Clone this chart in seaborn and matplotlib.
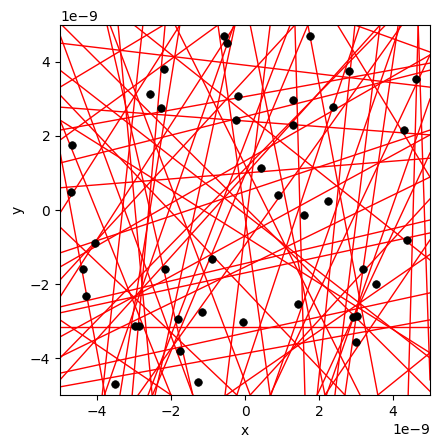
import numpy as np
import pandas as pd
import matplotlib
matplotlib.use("Agg")
import matplotlib.pyplot as plt
import seaborn as sns

SCALE = 1e-9

# black points (units of 1e-9)
point_x = [1.77, 2.82, 4.63, 1.31, 2.39, 1.31, 4.31, 0.43, 0.90, 2.25,
           -0.57, -0.48, -2.18, -2.57, -2.26, -0.18, -0.23, -4.67, -4.70,
           -4.05, -4.37, -4.29, -2.15, -0.88, -1.15, -1.80, -0.05, -2.97,
           -2.86, -1.75, -3.51, -1.26,
           1.60, 4.39, 3.20, 3.53, 1.44, 2.92, 3.03, 3.01]
point_y = [4.70, 3.76, 3.53, 2.97, 2.78, 2.29, 2.16, 1.14, 0.41, 0.24,
           4.70, 4.50, 3.80, 3.14, 2.75, 3.07, 2.43, 1.75, 0.49,
           -0.90, -1.60, -2.32, -1.60, -1.33, -2.77, -2.95, -3.04, -3.14,
           -3.14, -3.82, -4.71, -4.65,
           -0.14, -0.82, -1.60, -2.01, -2.55, -2.89, -2.86, -3.57]

# red lines, two end points each (units of 1e-9)
line_x0 = [-5, -5, -5, -5, -5, -5, -5, -5, -5, -5, -5, -5, -5, -5, -5, -5, -5,
           -3.73, -3.65, -3.43, -2.76, -2.16, -1.76, -0.73, -0.27, 0.14, 0.68,
           1.22, 1.35, 1.70, 2.97, 3.11, 3.65, 4.14, 4.24, 4.68, -1.89,
           -5, -5, -5, -5, -5, -5, -5, -5, 2.97, -4.95,
           5, 5, 5, 5, 5, 5,
           -5, -5, -3.0, -0.5, 0.14,
           -3.8, -2.5, 0.7, 2.2, -5, 3.8]
line_y0 = [-3.17, 2.16, 1.27, -2.78, -1.89, -2.35, -3.43, -3.97, -4.41, -4.59,
           2.78, -1.16, -1.54, -2.62, -2.97, -4.78, 4.51,
           5, 5, 5, 5, 5, 5, 5, 5, 5, 5, 5, 5, 5, 5, 5, 5, 5, 5, 5, 5,
           4.73, 3.78, 3.32, 2.43, 1.89, 1.57, -0.08, -0.46, 5, 5,
           4.19, 1.54, 0.89, -0.81, -3.86, -4.59,
           3.11, 2.43, 5, -5, -5,
           -5, -5, -5, -5, 0.6, 5]
line_x1 = [5, 5, 5, 5, 1.35, -0.27, 5, 5, 5, 3.65, 5, 5, 5, 5, -2.0, 5, 5,
           -1.41, 0.14, -2.51, -3.86, -3.05, -3.38, 0.68, -2.43, 2.16, -0.54,
           -2.62, 1.62, 3.59, 1.95, -0.22, 2.43, 2.70, -2.89, 4.41, 3.11,
           -1.41, 5, -2.2, -2.0, -0.73, -3.78, -1.76, -0.22, 5, 5,
           0.68, 1.95, 2.5, 2.16, 3.59, 4.68,
           2.7, 5, 5, 5, 5,
           -0.3, 1.7, 4.2, 5, 5, -5]
line_y1 = [-3.17, 3.97, 3.78, -0.62, 5, 5, 2.03, 0.89, -2.24, 5,
           2.03, 2.16, 4.19, -0.27, -5, -2.97, 3.32,
           -5, -5, -5, -5, -5, -5, -5, -5, -5, -5, -5, -5, -5, -5, -5, -5, -5,
           -5, -5, -5,
           -5, -4.0, 5, -5, 5, -5, 5, -5, 4.27, -4.9,
           -5, -5, 5, -5, -5, 5,
           -5, -3.86, -1.35, -1.2, 0.3,
           5, 5, 5, 3.0, 1.4, -4.0]

rows = []
for i, (a, b, c, d) in enumerate(zip(line_x0, line_y0, line_x1, line_y1)):
    rows.append({"line": i, "x": a * SCALE, "y": b * SCALE})
    rows.append({"line": i, "x": c * SCALE, "y": d * SCALE})
lines_df = pd.DataFrame(rows)

points_df = pd.DataFrame({"x": np.array(point_x) * SCALE,
                          "y": np.array(point_y) * SCALE})

fig = plt.figure(figsize=(4.39, 4.48), dpi=100)
ax = fig.add_axes([0.1367, 0.1183, 0.8428, 0.8259])

sns.lineplot(data=lines_df, x="x", y="y", units="line", estimator=None,
             sort=False, color="red", linewidth=1, ax=ax)
sns.scatterplot(data=points_df, x="x", y="y", color="black", s=30,
                edgecolor="black", linewidth=0.5, zorder=3, ax=ax)

ax.set_xlim(-5 * SCALE, 5 * SCALE)
ax.set_ylim(-5 * SCALE, 5 * SCALE)
ax.set_xlabel("x")
ax.set_ylabel("y")

fig.savefig("out.png", dpi=100)
